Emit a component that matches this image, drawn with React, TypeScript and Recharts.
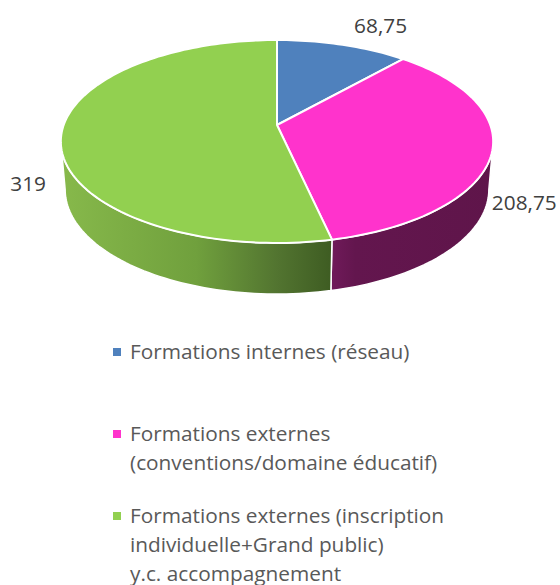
import React from "react";
import { PieChart, Pie, Legend } from "recharts";

const categories = [
  "Formations internes (réseau)",
  "Formations externes (conventions/domaine éducatif)",
  "Formations externes (inscription individuelle+Grand public) y.c. accompagnement",
];
const legendLines = [
  ["Formations internes (réseau)"],
  ["Formations externes", "(conventions/domaine éducatif)"],
  ["Formations externes (inscription", "individuelle+Grand public)", "y.c. accompagnement"],
];
const values = [68.75, 208.75, 319];
const valueLabels = ["68,75", "208,75", "319"];
const colors = ["#4f81bd", "#ff33cc", "#92d050"];
const wallStops = [
  [["0", "#3a5f8a"], ["1", "#2a4a70"]],
  [["0", "#701a5a"], ["0.15", "#63164e"], ["1", "#5f154a"]],
  [["0", "#87b94b"], ["0.5", "#70a03d"], ["0.8", "#527430"], ["1", "#3e5c22"]],
];
const labelNudges = [
  [38, -20],
  [32, 51],
  [-33, 47],
];

const rows = categories.map((name, i) => ({ name, value: values[i], fill: colors[i], idx: i }));

const TILT = 0.1626;
const SX = 2.133;
const SY = 0.988;
const rad = (d: number) => (d * Math.PI) / 180;

function project(t: number, cx: number, cy: number, r: number) {
  const X = Math.sin(rad(t));
  const Y = Math.cos(rad(t));
  const w = 1 + TILT * Y;
  return [cx + (SX * r * X) / w, cy - (SY * r * Y) / w];
}

function lower(t: number, cx: number, cy: number, r: number) {
  const [x, y] = project(t, cx, cy, r);
  const midY = cy + 17;
  return [cx + (x - cx) * 0.98, midY + 48 + (y - midY) * 1.03];
}

const arcPoints = (a: number, b: number, f: (t: number) => number[]) => {
  const n = Math.max(2, Math.ceil(Math.abs(b - a) / 1.5));
  const out: number[][] = [];
  for (let i = 0; i <= n; i++) out.push(f(a + ((b - a) * i) / n));
  return out;
};
const toD = (pts: number[][]) => pts.map((p, i) => (i ? "L" : "M") + p[0].toFixed(2) + " " + p[1].toFixed(2)).join(" ");

const TopFace = (p: any) => {
  const a = 90 - p.startAngle;
  const b = 90 - p.endAngle;
  const pts = arcPoints(a, b, (t) => project(t, p.cx, p.cy, p.outerRadius));
  return <path d={toD([[p.cx, p.cy], ...pts]) + " Z"} fill={p.fill} stroke="#ffffff" strokeWidth={2} strokeLinejoin="round" />;
};

const Wall = (p: any) => {
  const limit = (Math.acos(-TILT) * 180) / Math.PI;
  const a = Math.max(90 - p.startAngle, limit);
  const b = Math.min(90 - p.endAngle, 360 - limit);
  if (b <= a) return <g />;
  const f1 = (t: number) => project(t, p.cx, p.cy, p.outerRadius);
  const f2 = (t: number) => lower(t, p.cx, p.cy, p.outerRadius);
  const upper = arcPoints(a, b, f1);
  const low = arcPoints(b, a, f2);
  const i = p.payload?.idx ?? p.idx ?? 0;
  const id = "wall" + i;
  return (
    <g>
      <defs>
        <linearGradient id={id} x1={0} x2={1} y1={0} y2={0}>
          {wallStops[i].map((s) => (
            <stop key={s[0]} offset={s[0]} stopColor={s[1]} />
          ))}
        </linearGradient>
      </defs>
      <path d={toD([...upper, ...low]) + " Z"} fill={`url(#${id})`} stroke="#ffffff" strokeWidth={1.5} strokeLinejoin="round" />
    </g>
  );
};

const renderLabel = (p: any) => {
  const i = p.payload?.idx ?? p.index ?? 0;
  const [x, y] = project(90 - p.midAngle, p.cx, p.cy, p.outerRadius);
  return (
    <text
      x={x + labelNudges[i][0]}
      y={y + labelNudges[i][1]}
      textAnchor="middle"
      dominantBaseline="central"
      fontFamily="'Open Sans', sans-serif"
      fontSize={20.8}
      fill="#404040"
    >
      {valueLabels[i]}
    </text>
  );
};

const LEGEND_TOPS = [0, 82, 164];
const renderLegend = () => (
  <div style={{ position: "relative", width: 560, height: 250, fontFamily: "'Open Sans', sans-serif", fontSize: 20.8, color: "#595959" }}>
    {legendLines.map((lines, i) => (
      <div key={i} style={{ position: "absolute", left: 0, top: LEGEND_TOPS[i] }}>
        <span style={{ position: "absolute", left: 113, top: 13, width: 8, height: 8, background: colors[i] }} />
        {lines.map((l, j) => (
          <div key={j} style={{ position: "absolute", left: 130, top: j * 29, lineHeight: "32px", whiteSpace: "nowrap" }}>
            {l}
          </div>
        ))}
      </div>
    ))}
  </div>
);

export default function App() {
  return (
    <div style={{ position: "absolute", left: 0, top: 0, width: 560, height: 585, overflow: "hidden", background: "#fff" }}>
      <PieChart width={560} height={585} margin={{ top: 0, right: 0, bottom: 0, left: 0 }}>
        <Pie
          data={rows}
          dataKey="value"
          nameKey="name"
          cx={277}
          cy={125}
          outerRadius={100}
          startAngle={90}
          endAngle={-270}
          legendType="none"
          isAnimationActive={false}
          shape={Wall}
        />
        <Pie
          data={rows}
          dataKey="value"
          nameKey="name"
          cx={277}
          cy={125}
          outerRadius={100}
          startAngle={90}
          endAngle={-270}
          isAnimationActive={false}
          shape={TopFace}
          label={renderLabel}
          labelLine={false}
        />
        <Legend
          content={renderLegend}
          wrapperStyle={{ position: "absolute", left: 0, top: 335, width: 560, height: 250 }}
        />
      </PieChart>
    </div>
  );
}
